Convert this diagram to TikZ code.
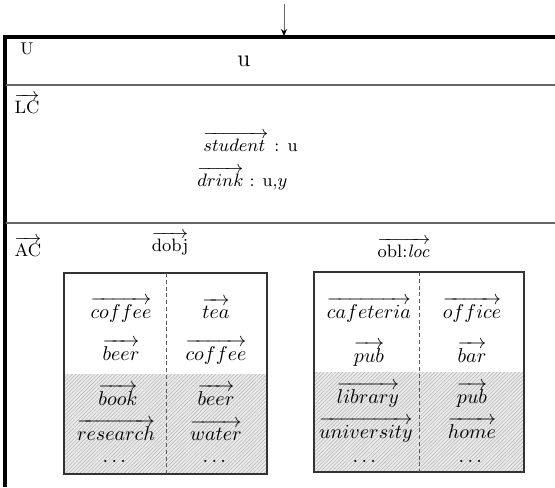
\documentclass[tikz,border=0pt]{standalone}
\usepackage{amsmath}
\usetikzlibrary{arrows.meta,patterns.meta}

\tikzset{
  framerule/.style={line width=1.6pt, black},
  seprule/.style={line width=0.7pt, black!60},
  panel/.style={draw=black!80, line width=0.6pt},
  hatched/.style={fill=black!8,
    postaction={pattern={Lines[angle=45,distance=1.3pt,line width=0.25pt]},
                pattern color=black!30}},
  divider/.style={black!65, line width=0.5pt, dash pattern=on 2pt off 1.4pt},
  lbl/.style={inner sep=0pt, font=\fontsize{9}{11}\selectfont},
  lcword/.style={inner sep=0pt, anchor=base west, font=\fontsize{8.8}{10}\selectfont},
  cell/.style={inner sep=0pt, anchor=base, font=\fontsize{9.6}{11}\selectfont},
  feed/.style={black!60, line width=0.5pt, -{Stealth[length=3.5pt,width=3pt,black]}}
}

\begin{document}
\begin{tikzpicture}[x=0.5pt,y=-0.5pt]
\useasboundingbox (0,0) rectangle (555,487);

% outer frame (open to the right and bottom)
\coordinate (top) at (284,36);
\coordinate (src) at (284,4);
\draw[framerule] (555,37) -- (5,37) -- (5,487);
\draw[feed] (src) -- (top);

% section rules
\draw[seprule] (6,85) -- (555,85);
\draw[seprule] (6,223) -- (555,223);

% U section
\node[lbl, font=\fontsize{8.5}{10}\selectfont] (U) at (27,49) {U};
\node[lbl, font=\fontsize{12}{14}\selectfont] (u) at (244,61) {u};

% LC section
\node[lbl, anchor=base] (LC) at (27,113) {$\overrightarrow{\mathrm{LC}}$};
\node[lcword] (student) at (203,151) {$\overrightarrow{student\,}$\ : u};
\node[lcword] (drink) at (197,186) {$\overrightarrow{drink}$ : u,$y$};

% AC section
\node[lbl, anchor=base] (AC) at (28,256) {$\overrightarrow{\mathrm{AC}}$};
\node[lbl, anchor=base] (dobj) at (170,251) {$\overrightarrow{\mathrm{dobj}}$};
\node[lbl, anchor=base] (obl) at (404,257) {$\overrightarrow{\mathrm{obl}{:}\mathit{loc}}$};

% dobj panel
\fill[hatched] (64,374) rectangle (267,474);
\draw[panel] (64,273) rectangle (267,474);
\draw[divider] (166,273) -- (166,474);
\node[cell] (d11) at (121,318) {$\overrightarrow{coffee}$};
\node[cell] (d21) at (121,360) {$\overrightarrow{beer}$};
\node[cell] (d31) at (118,405) {$\overrightarrow{book}$};
\node[cell] (d41) at (116,440) {$\overrightarrow{research}$};
\node[cell] (d51) at (116,462) {$\dots$};
\node[cell] (d12) at (216,318) {$\overrightarrow{tea}$};
\node[cell] (d22) at (216,360) {$\overrightarrow{coffee}$};
\node[cell] (d32) at (216,405) {$\overrightarrow{beer}$};
\node[cell] (d42) at (216,440) {$\overrightarrow{water}$};
\node[cell] (d52) at (216,462) {$\dots$};

% obl:loc panel
\fill[hatched] (314,372) rectangle (524,472);
\draw[panel] (314,272) rectangle (524,472);
\draw[divider] (419,272) -- (419,472);
\node[cell] (o11) at (369,318) {$\overrightarrow{cafeteria}$};
\node[cell] (o21) at (369,362) {$\overrightarrow{pub}$};
\node[cell] (o31) at (368,403) {$\overrightarrow{library}$};
\node[cell] (o41) at (366,438) {$\overrightarrow{university}$};
\node[cell] (o51) at (366,462) {$\dots$};
\node[cell] (o12) at (472,318) {$\overrightarrow{office}$};
\node[cell] (o22) at (472,362) {$\overrightarrow{bar}$};
\node[cell] (o32) at (472,403) {$\overrightarrow{pub}$};
\node[cell] (o42) at (472,438) {$\overrightarrow{home}$};
\node[cell] (o52) at (472,462) {$\dots$};
\end{tikzpicture}
\end{document}
